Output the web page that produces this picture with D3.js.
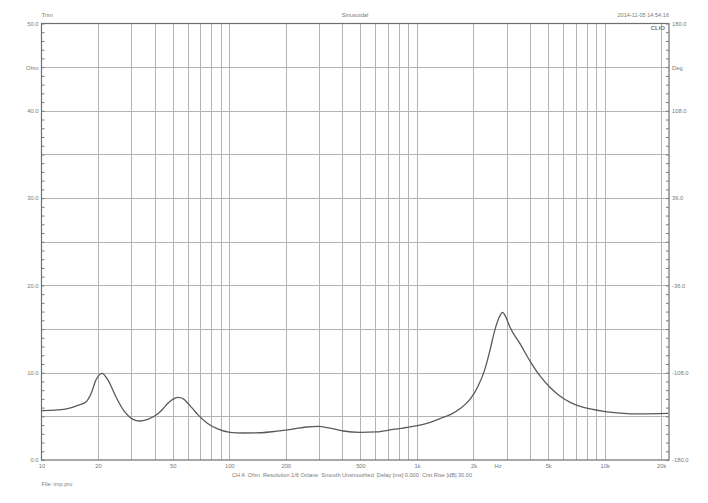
<!DOCTYPE html>
<html>
<head>
<meta charset="utf-8">
<script src="https://cdn.jsdelivr.net/npm/d3@7"></script>
<style>
  html, body { margin: 0; padding: 0; background: #fff; }
  svg { display: block; }
  text { font-family: "Liberation Sans", Arial, sans-serif; fill: #7a7a7a; white-space: pre; }
</style>
</head>
<body>
<svg id="chart" width="708" height="503"></svg>
<script>
// ---- data ----
const freqs = [10, 12.2, 13.8, 15.6, 17.3, 18.4, 19.5, 21, 22.6, 24.9, 27.7, 30.7, 33.3, 36.8, 41.7, 44.3, 47.1, 50, 53.3, 57, 60.2, 64, 68, 77.1, 88, 101, 118, 145, 179, 219, 258, 298, 344, 405, 497, 610, 748, 918, 1127, 1328, 1506, 1706, 1934, 2108, 2292, 2450, 2600, 2750, 2855, 2970, 3130, 3545, 4008, 4532, 5122, 5792, 6549, 7405, 8373, 10063, 12092, 15463, 21800];
const impedance = [5.65, 5.73, 5.88, 6.25, 6.68, 7.64, 9.16, 9.93, 9.16, 7.25, 5.53, 4.66, 4.47, 4.66, 5.3, 5.85, 6.5, 6.95, 7.18, 7.0, 6.5, 5.85, 5.2, 4.15, 3.5, 3.17, 3.09, 3.12, 3.3, 3.55, 3.78, 3.86, 3.65, 3.32, 3.17, 3.22, 3.5, 3.8, 4.2, 4.75, 5.2, 5.92, 7.07, 8.4, 10.3, 12.6, 14.9, 16.4, 16.9, 16.4, 15.2, 13.3, 11.3, 9.6, 8.3, 7.3, 6.6, 6.15, 5.85, 5.55, 5.38, 5.28, 5.33];

const xTickValues = [10, 20, 50, 100, 200, 500, 1000, 2000, 3000, 5000, 10000, 20000];
const xTickLabels = ["10", "20", "50", "100", "200", "500", "1k", "2k", "Hz", "5k", "10k", "20k"];
const xGridValues = [20, 30, 40, 50, 60, 70, 80, 90, 100, 200, 300, 400, 500, 600, 700, 800, 900, 1000, 2000, 3000, 4000, 5000, 6000, 7000, 8000, 9000, 10000, 20000];
const yGridValues = [5, 10, 15, 20, 25, 30, 35, 40, 45];
const yTickValues = [0, 10, 20, 30, 40, 45, 50];
const yTickLabels = ["0.0", "10.0", "20.0", "30.0", "40.0", "Ohm", "50.0"];
const yRightTickValues = [-180, -108, -36, 36, 108, 144, 180];
const yRightTickLabels = ["-180.0", "-108.0", "-36.0", "36.0", "108.0", "Deg", "180.0"];
const yMinorTicks = d3.range(0, 51, 1);
const yRightMinorTicks = d3.range(-180, 180.01, 7.2);

const titleLeft = "Trim";
const titleCenter = "Sinusoidal";
const titleRight = "2014-11-05 14:54:16";
const brand = "CLIO";
const infoLine = "CH A  Ohm  Resolution 1/6 Octave  Smooth Unsmoothed  Delay [ms] 0.000  Crst Rise [dB] 30.00";
const fileLine = "File: imp.pro";

// ---- layout ----
const L = 41.5, R = 669, T = 23.5, B = 460;
const svg = d3.select("#chart");

const x = d3.scaleLog().domain([10, 22000]).range([L, R]);
const y = d3.scaleLinear().domain([0, 50]).range([B, T]);
const yR = d3.scaleLinear().domain([-180, 180]).range([B, T]);

// grid
const grid = svg.append("g").attr("stroke", "#b4b4b4").attr("stroke-width", 1);
grid.selectAll("line.v").data(xGridValues).join("line")
  .attr("x1", d => Math.round(x(d)) + 0.5).attr("x2", d => Math.round(x(d)) + 0.5)
  .attr("y1", T).attr("y2", B);
grid.selectAll("line.h").data(yGridValues).join("line")
  .attr("y1", d => Math.round(y(d)) + 0.5).attr("y2", d => Math.round(y(d)) + 0.5)
  .attr("x1", L).attr("x2", R);

// frame
svg.append("rect").attr("x", L).attr("y", T).attr("width", R - L).attr("height", B - T)
  .attr("fill", "none").attr("stroke", "#6e6e6e").attr("stroke-width", 1.2);

// minor ticks (inward)
const tickStyle = g => { g.select(".domain").remove(); g.selectAll("line").attr("stroke", "#7a7a7a"); };
svg.append("g").attr("transform", `translate(${L},0)`)
  .call(d3.axisLeft(y).tickValues(yMinorTicks).tickSize(-3).tickFormat(""))
  .call(tickStyle);
svg.append("g").attr("transform", `translate(${R},0)`)
  .call(d3.axisRight(yR).tickValues(yRightMinorTicks).tickSize(-3).tickFormat(""))
  .call(tickStyle);

// labels
const labelStyle = g => {
  g.select(".domain").remove();
  g.selectAll("line").remove();
  g.selectAll("text").attr("font-size", 5.8).attr("fill", "#7a7a7a")
    .attr("font-family", "Liberation Sans, Arial, sans-serif");
};
svg.append("g").attr("transform", `translate(${L},0)`)
  .call(d3.axisLeft(y).tickValues(yTickValues).tickSize(0).tickPadding(3)
    .tickFormat((d, i) => yTickLabels[i]))
  .call(labelStyle);
svg.append("g").attr("transform", `translate(${R},0)`)
  .call(d3.axisRight(yR).tickValues(yRightTickValues).tickSize(0).tickPadding(3)
    .tickFormat((d, i) => yRightTickLabels[i]))
  .call(labelStyle);
const xAxisG = svg.append("g").attr("transform", `translate(0,${B})`)
  .call(d3.axisBottom(x).tickValues(xTickValues).tickSize(0).tickPadding(4)
    .tickFormat((d, i) => xTickLabels[i]))
  .call(labelStyle);
xAxisG.selectAll(".tick").filter(d => d === 3000).select("text").attr("dx", -9);

// curve
const line = d3.line()
  .x((d, i) => x(freqs[i]))
  .y(d => y(d))
  .curve(d3.curveMonotoneX);
svg.append("path").datum(impedance)
  .attr("d", line).attr("fill", "none")
  .attr("stroke", "#5a5a5a").attr("stroke-width", 1.3);

// texts
svg.append("text").attr("x", L).attr("y", 17).attr("font-size", 5.8).text(titleLeft);
svg.append("text").attr("x", 355).attr("y", 17).attr("font-size", 5.8)
  .attr("text-anchor", "middle").text(titleCenter);
svg.append("text").attr("x", R).attr("y", 17).attr("font-size", 5.6)
  .attr("text-anchor", "end").text(titleRight);
svg.append("text").attr("x", R - 4).attr("y", 30).attr("font-size", 6)
  .attr("font-weight", "bold").attr("fill", "#666").attr("text-anchor", "end").text(brand);
svg.append("text").attr("x", 352).attr("y", 477).attr("font-size", 5.6)
  .attr("text-anchor", "middle").text(infoLine);
svg.append("text").attr("x", L).attr("y", 486).attr("font-size", 5.6).text(fileLine);
</script>
</body>
</html>
